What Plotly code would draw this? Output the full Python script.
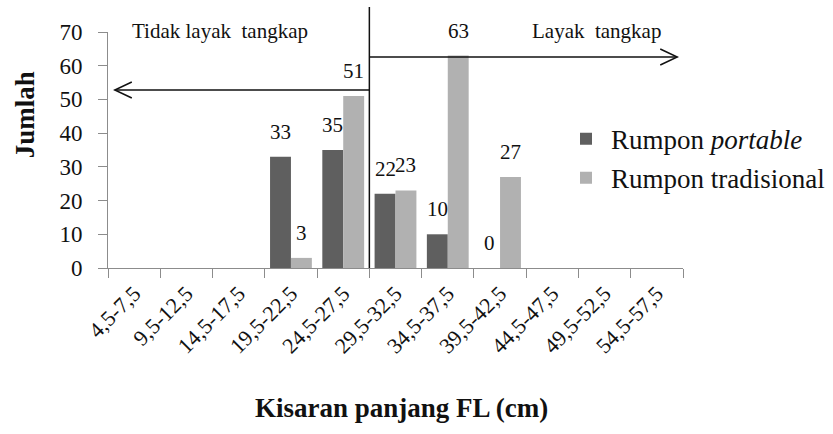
import plotly.graph_objects as go

# Fork length classes (cm) and fish counts per FAD type
kelas_panjang = ["4,5-7,5", "9,5-12,5", "14,5-17,5", "19,5-22,5", "24,5-27,5",
                 "29,5-32,5", "34,5-37,5", "39,5-42,5", "44,5-47,5", "49,5-52,5",
                 "54,5-57,5"]
rumpon_portable = [0, 0, 0, 33, 35, 22, 10, 0, 0, 0, 0]
rumpon_tradisional = [0, 0, 0, 3, 51, 23, 63, 27, 0, 0, 0]

# classes whose counts carry a data label
label_portable = [3, 4, 5, 6, 7]
label_tradisional = [3, 4, 5, 6, 7]

y_ticks = [0, 10, 20, 30, 40, 50, 60, 70]

SERIF = "Liberation Serif"
DARK = "#5f5f5f"
LIGHT = "#b1b1b1"
INK = "#111111"

fig = go.Figure()
fig.add_trace(go.Bar(x=kelas_panjang, y=rumpon_portable, name="Rumpon <i>portable</i>",
                     marker=dict(color=DARK, line=dict(width=0)), legendgroup="a"))
fig.add_trace(go.Bar(x=kelas_panjang, y=rumpon_tradisional, name="Rumpon tradisional",
                     marker=dict(color=LIGHT, line=dict(width=0)), legendgroup="b"))

annotations = []
for i in label_portable:
    annotations.append(dict(x=i - 0.2, y=rumpon_portable[i], xref="x", yref="y",
                            text=str(rumpon_portable[i]), showarrow=False,
                            yanchor="middle", yshift=25, borderpad=0,
                            font=dict(family=SERIF, size=21, color=INK)))
for i in label_tradisional:
    annotations.append(dict(x=i + 0.2, y=rumpon_tradisional[i], xref="x", yref="y",
                            text=str(rumpon_tradisional[i]), showarrow=False,
                            yanchor="middle", yshift=25, borderpad=0,
                            font=dict(family=SERIF, size=21, color=INK)))

# region captions and axis titles
annotations += [
    dict(x=0.195, y=1.004, xref="paper", yref="paper", text="Tidak layak  tangkap",
         showarrow=False, xanchor="center", yanchor="middle",
         font=dict(family=SERIF, size=21, color=INK)),
    dict(x=0.850, y=1.004, xref="paper", yref="paper", text="Layak  tangkap",
         showarrow=False, xanchor="center", yanchor="middle",
         font=dict(family=SERIF, size=21, color=INK)),
    dict(x=-0.144, y=0.648, xref="paper", yref="paper", text="<b>Jumlah</b>",
         showarrow=False, textangle=-90, xanchor="center", yanchor="middle",
         font=dict(family=SERIF, size=27, color=INK)),
    dict(x=0.511, y=-0.593, xref="paper", yref="paper",
         text="<b>Kisaran panjang FL (cm)</b>",
         showarrow=False, xanchor="center", yanchor="middle",
         font=dict(family=SERIF, size=27, color=INK)),
]

# size limit divider and direction arrows
batas = 4.5
y_kiri = 52.8
y_kanan = 62.6
line_style = dict(color=INK, width=1.5)
shapes = [
    dict(type="line", xref="x", yref="paper", x0=batas, x1=batas, y0=0, y1=1.106,
         line=line_style),
    dict(type="line", xref="x", yref="y", x0=batas, x1=-0.37, y0=y_kiri, y1=y_kiri,
         line=line_style),
    dict(type="path", xref="x", yref="y", xsizemode="pixel", ysizemode="pixel",
         xanchor=-0.37, yanchor=y_kiri, path="M17,8 L0,0 L17,-8", line=line_style),
    dict(type="line", xref="x", yref="y", x0=batas, x1=10.39, y0=y_kanan, y1=y_kanan,
         line=line_style),
    dict(type="path", xref="x", yref="y", xsizemode="pixel", ysizemode="pixel",
         xanchor=10.39, yanchor=y_kanan, path="M-17,8 L0,0 L-17,-8", line=line_style),
]

fig.update_layout(
    width=833, height=434,
    margin=dict(l=108, r=150, t=32, b=166, autoexpand=False),
    paper_bgcolor="white", plot_bgcolor="white",
    barmode="group", bargap=0.2, bargroupgap=0,
    font=dict(family=SERIF, size=22, color=INK),
    showlegend=True,
    legend=dict(x=(561 - 108) / 575, y=0.650, xanchor="left", yanchor="top",
                traceorder="grouped", tracegroupgap=1, itemwidth=40,
                font=dict(family=SERIF, size=27, color=INK),
                bgcolor="rgba(0,0,0,0)"),
    annotations=annotations,
    shapes=shapes,
)
fig.update_xaxes(
    type="category", range=[-0.5, 10.5], tickangle=-45,
    showline=True, linecolor="#8c8c8c", linewidth=1,
    ticks="outside", tickson="boundaries", ticklen=9, tickcolor="#8c8c8c",
    ticklabelstandoff=3, automargin=False,
    showgrid=False, tickfont=dict(family=SERIF, size=22, color=INK),
)
fig.update_yaxes(
    range=[0, 70], tickvals=y_ticks,
    showline=True, linecolor="#8c8c8c", linewidth=1,
    ticks="outside", ticklen=9, tickcolor="#8c8c8c",
    ticklabelstandoff=11, automargin=False,
    showgrid=False, zeroline=False,
    tickfont=dict(family=SERIF, size=23, color=INK),
)

fig.write_html("out.html")
